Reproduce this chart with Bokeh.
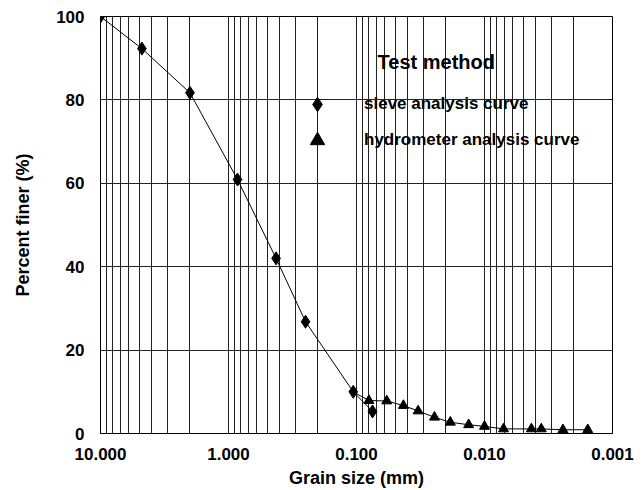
from bokeh.plotting import figure
from bokeh.models import Range1d, FixedTicker, PrintfTickFormatter, Legend, LegendItem, Label, ColumnDataSource
from bokeh.embed import file_html
from bokeh.resources import INLINE

# Sieve analysis (grain size mm, percent finer)
sieve_size = [10.0, 4.75, 2.0, 0.85, 0.425, 0.25, 0.106, 0.075]
sieve_pct = [100.0, 92.3, 81.7, 60.9, 42.0, 26.8, 10.0, 5.3]

# Hydrometer analysis
hydro_size = [0.080, 0.058, 0.043, 0.033, 0.0246, 0.0185, 0.0133, 0.0100,
              0.0071, 0.0043, 0.0036, 0.00244, 0.00156]
hydro_pct = [7.9, 7.8, 6.7, 5.4, 3.9, 2.7, 2.1, 1.7, 1.1, 1.1, 1.1, 0.9, 0.9]

x_ticks = [10, 1, 0.1, 0.01, 0.001]
y_ticks = [0, 20, 40, 60, 80, 100]

FONT = "Liberation Sans"

minor = []
for d in [1, 0.1, 0.01, 0.001]:
    for k in range(2, 10):
        minor.append(d * k)

p = figure(width=636, height=490, x_axis_type="log",
           x_range=Range1d(10, 0.001), y_range=Range1d(0, 100),
           output_backend="svg", toolbar_location=None,
           min_border_left=100, min_border_right=24, min_border_top=16, min_border_bottom=57)
p.background_fill_color = "white"
p.border_fill_color = "white"
p.outline_line_color = "black"
p.outline_line_width = 1

p.xaxis.ticker = FixedTicker(ticks=x_ticks, minor_ticks=minor)
p.xaxis.formatter = PrintfTickFormatter(format="%.3f")
p.yaxis.ticker = FixedTicker(ticks=y_ticks)

for ax in [p.xaxis, p.yaxis]:
    ax.major_tick_line_color = None
    ax.minor_tick_line_color = None
    ax.axis_line_color = "black"
    ax.major_label_text_font = FONT
    ax.major_label_text_font_style = "bold"
    ax.major_label_text_font_size = "17px"
    ax.major_label_text_color = "black"
    ax.axis_label_text_font = FONT
    ax.axis_label_text_font_style = "bold"
    ax.axis_label_text_font_size = "18px"
    ax.axis_label_text_color = "black"

p.xaxis.axis_label = "Grain size (mm)"
p.yaxis.axis_label = "Percent finer (%)"
p.xaxis.major_label_standoff = 8
p.yaxis.major_label_standoff = 10
p.xaxis.axis_label_standoff = 5
p.yaxis.axis_label_standoff = 20

p.xgrid.grid_line_color = "#222222"
p.xgrid.minor_grid_line_color = "#222222"
p.xgrid.grid_line_width = 1
p.xgrid.minor_grid_line_width = 1
p.ygrid.grid_line_color = "#222222"
p.ygrid.grid_line_width = 1

src_s = ColumnDataSource(dict(x=sieve_size, y=sieve_pct))
src_h = ColumnDataSource(dict(x=hydro_size, y=hydro_pct))
link = ColumnDataSource(dict(x=[sieve_size[-2]] + hydro_size, y=[sieve_pct[-2]] + hydro_pct))

p.line("x", "y", source=src_s, line_color="black", line_width=1)
p.line("x", "y", source=link, line_color="black", line_width=1)
r_s = p.scatter("x", "y", source=src_s, marker="diamond", size=13,
                fill_color="black", line_color="black")
r_h = p.scatter("x", "y", source=src_h, marker="triangle", size=10,
                fill_color="black", line_color="black")

legend = Legend(items=[LegendItem(label="sieve analysis curve", renderers=[r_s]),
                       LegendItem(label="hydrometer analysis curve", renderers=[r_h])],
                location=(195, 275), orientation="vertical",
                glyph_width=44, glyph_height=36, label_standoff=25, spacing=0,
                padding=0, margin=0,
                background_fill_alpha=0, border_line_color=None,
                label_text_font=FONT, label_text_font_style="bold",
                label_text_font_size="17px", label_text_color="black",
                label_height=36)
p.add_layout(legend)

p.add_layout(Label(x=0.0685, y=89, text="Test method", text_font=FONT,
                   text_font_style="bold", text_font_size="20px",
                   text_baseline="middle", text_color="black"))

open("out.html", "w").write(file_html(p, INLINE))
